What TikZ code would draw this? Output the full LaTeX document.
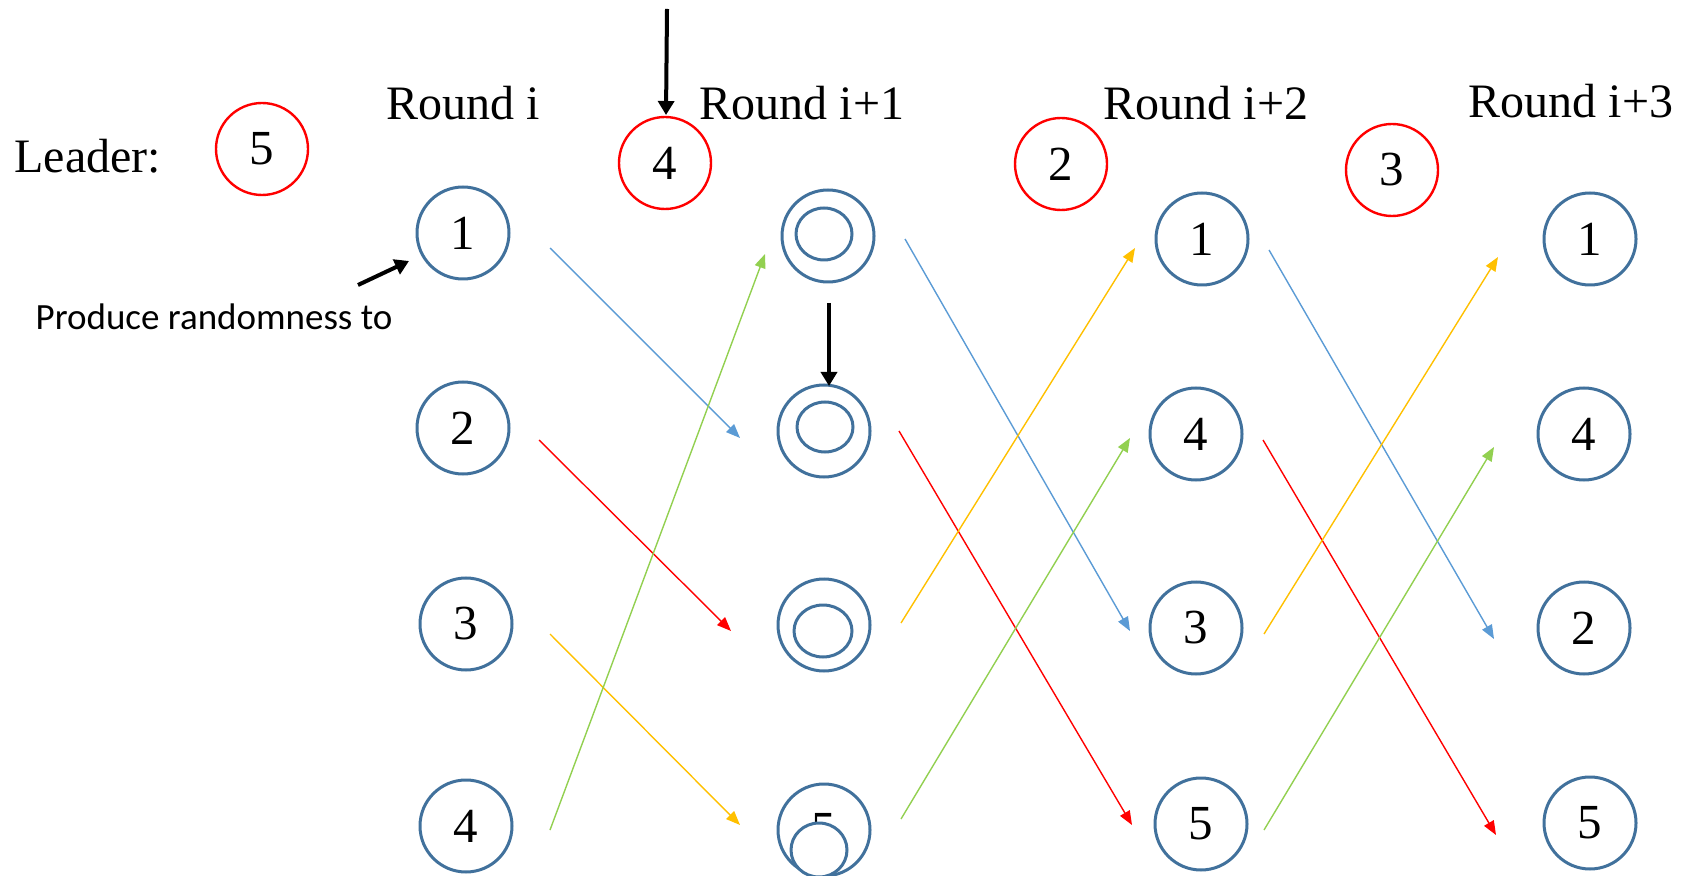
\documentclass[tikz,border=0pt]{standalone}
\usepackage{fontspec}
\setmainfont{Liberation Serif}
\newfontfamily\calib{Carlito}
\usetikzlibrary{arrows.meta}
\definecolor{cblue}{RGB}{65,113,156}
\definecolor{ablue}{RGB}{91,155,213}
\definecolor{ared}{RGB}{255,0,0}
\definecolor{ayellow}{RGB}{255,192,0}
\definecolor{agreen}{RGB}{146,208,80}
\tikzset{
  pnode/.style={circle,draw=cblue,line width=1.5pt,minimum size=46pt,inner sep=0pt,font=\fontsize{24.5}{28}\selectfont},
  lnode/.style={circle,draw=ared,line width=1.2pt,minimum size=46pt,inner sep=0pt,font=\fontsize{24.5}{28}\selectfont},
  inner/.style={draw=cblue,line width=1.5pt},
  lbl/.style={anchor=base,inner sep=0pt,font=\fontsize{24}{28}\selectfont},
  carrow/.style={line width=0.7pt,-{Triangle[length=7pt,width=5.5pt]}},
  barrow/.style={line width=2pt,black,-{Triangle[length=7pt,width=8pt]}}
}
\begin{document}
\begin{tikzpicture}[x=0.5pt,y=-0.5pt]
\useasboundingbox (0,0) rectangle (1690,876);
% labels
\node[lbl,anchor=base west] (leader) at (14,173) {Leader:};
\node[lnode] (L0) at (262,149) {5};
\node[lbl] (r0) at (463,120) {Round i};
\node[lbl] (r1) at (802,120) {Round i+1};
\node[lbl] (r2) at (1206,120) {Round i+2};
\node[lbl] (r3) at (1571,118) {Round i+3};
\node[lnode] (L1) at (665,163) {4};
\node[lnode] (L2) at (1061,164) {2};
\node[lnode] (L3) at (1392,170) {3};
% column 1
\node[pnode] (a1) at (463,233) {1};
\node[pnode] (a2) at (463,428) {2};
\node[pnode] (a3) at (466,624) {3};
\node[pnode] (a4) at (466,826) {4};
% column 2
\node[pnode] (b1) at (828,236) {};
\node[pnode] (b2) at (824,431) {};
\node[pnode] (b3) at (824,625) {};
\node[pnode] (b4) at (824,830) {5};
\draw[inner] (824,234) ellipse [x radius=14pt,y radius=13pt];
\draw[inner] (825,427) ellipse [x radius=14pt,y radius=12.5pt];
\draw[inner] (823,631) ellipse [x radius=14.5pt,y radius=13pt];
\draw[inner,fill=white] (819,850) ellipse [x radius=14pt,y radius=13.5pt];
% column 3
\node[pnode] (c1) at (1202,239) {1};
\node[pnode] (c2) at (1196,434) {4};
\node[pnode] (c3) at (1196,628) {3};
\node[pnode] (c4) at (1201,824) {5};
% column 4
\node[pnode] (d1) at (1590,239) {1};
\node[pnode] (d2) at (1584,434) {4};
\node[pnode] (d3) at (1584,628) {2};
\node[pnode] (d4) at (1590,823) {5};
% text
\node[anchor=base,inner sep=0pt,font=\calib\fontsize{18.5}{22}\selectfont] (prod) at (214,330) {Produce randomness to};
% coordinates
\coordinate (p1s) at (550,248); \coordinate (p1e) at (740,438);
\coordinate (p2s) at (539,440); \coordinate (p2e) at (731,631);
\coordinate (p3s) at (550,634); \coordinate (p3e) at (740,825);
\coordinate (p4s) at (550,830); \coordinate (p4e) at (765,254);
\coordinate (q1s) at (905,239); \coordinate (q1e) at (1130,631);
\coordinate (q2s) at (899,431); \coordinate (q2e) at (1132,825);
\coordinate (q3s) at (901,623); \coordinate (q3e) at (1135,248);
\coordinate (q4s) at (901,819); \coordinate (q4e) at (1130,438);
\coordinate (s1s) at (1269,250); \coordinate (s1e) at (1494,639);
\coordinate (s2s) at (1263,440); \coordinate (s2e) at (1496,835);
\coordinate (s3s) at (1264,634); \coordinate (s3e) at (1498,257);
\coordinate (s4s) at (1264,830); \coordinate (s4e) at (1494,447);
\coordinate (k1) at (667,9); \coordinate (k1e) at (666,115);
\coordinate (k2) at (829,303); \coordinate (k2e) at (829,386);
\coordinate (k3) at (358,285); \coordinate (k3e) at (409,261);
% arrows
\draw[carrow,ablue] (p1s) -- (p1e);
\draw[carrow,ared] (p2s) -- (p2e);
\draw[carrow,ayellow] (p3s) -- (p3e);
\draw[carrow,agreen] (p4s) -- (p4e);
\draw[carrow,ablue] (q1s) -- (q1e);
\draw[carrow,ared] (q2s) -- (q2e);
\draw[carrow,ayellow] (q3s) -- (q3e);
\draw[carrow,agreen] (q4s) -- (q4e);
\draw[carrow,ablue] (s1s) -- (s1e);
\draw[carrow,ared] (s2s) -- (s2e);
\draw[carrow,ayellow] (s3s) -- (s3e);
\draw[carrow,agreen] (s4s) -- (s4e);
\draw[barrow] (k1) -- (k1e);
\draw[barrow] (k2) -- (k2e);
\draw[barrow] (k3) -- (k3e);
\end{tikzpicture}
\end{document}
